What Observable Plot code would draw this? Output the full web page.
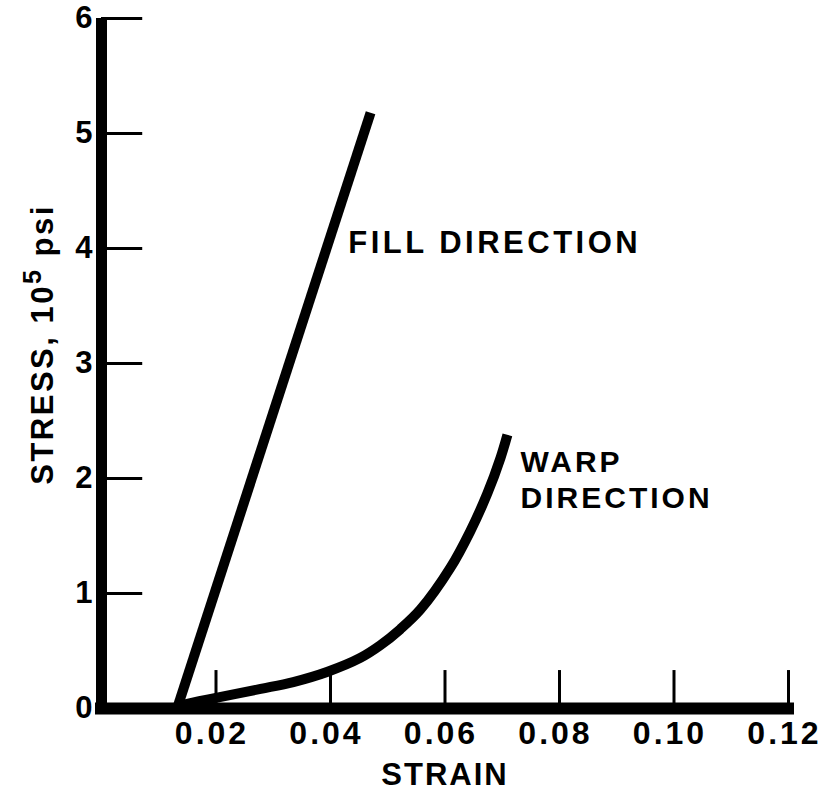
<!DOCTYPE html>
<html><head><meta charset="utf-8">
<script src="https://cdn.jsdelivr.net/npm/d3@7"></script>
<script src="https://cdn.jsdelivr.net/npm/@observablehq/plot@0.6"></script>
<style>
html,body{margin:0;padding:0;background:#fff}
#chart svg{font-family:"Liberation Sans",Arial,sans-serif;font-weight:bold;background:#fff}
g[aria-label="x-axis tick label"] text{letter-spacing:3px}
</style></head><body><div id="chart"></div>
<script>
// Tick values
const strainTicks = [0.02, 0.04, 0.06, 0.08, 0.10, 0.12];
const stressTicks = [0, 1, 2, 3, 4, 5, 6];

// Fill direction (straight line)
const fillStrain = [0.0132, 0.0470];
const fillStress = [0, 5.18];

// Warp direction (curve)
const warpStrain = [0.0140, 0.0187, 0.0278, 0.0335, 0.0395, 0.0452, 0.0487, 0.0522, 0.0557, 0.0609, 0.0644, 0.0674, 0.0697, 0.0709];
const warpStress = [0.03, 0.08, 0.17, 0.23, 0.32, 0.44, 0.55, 0.69, 0.86, 1.22, 1.54, 1.87, 2.18, 2.38];

// Annotations
const noteText = ["FILL DIRECTION", "WARP\nDIRECTION"];
const noteStrain = [0.0431, 0.0732];
const noteStress = [3.96, 1.74];

const xTitle = "STRAIN";
const yTitle = "STRESS, 10⁵ psi";

const tickLenStress = 0.33;   // x-tick length in stress units
const tickLenStrain = 0.0072; // y-tick length in strain units

const fillData = fillStrain.map((x, i) => ({x, y: fillStress[i]}));
const warpData = warpStrain.map((x, i) => ({x, y: warpStress[i]}));

const svg = Plot.plot({
  width: 821,
  height: 790,
  marginLeft: 101,
  marginRight: 33,
  marginTop: 18,
  marginBottom: 82,
  x: {domain: [0, 0.12]},
  y: {domain: [0, 6]},
  marks: [
    // x ticks (pointing up)
    Plot.ruleX(strainTicks, {x: d => d, y1: 0, y2: tickLenStress, stroke: "black", strokeWidth: 3}),
    // y ticks (pointing right)
    Plot.ruleY(stressTicks.filter(d => d > 0), {y: d => d, x1: 0, x2: tickLenStrain, stroke: "black", strokeWidth: 3}),
    // axis lines
    Plot.ruleX([0], {stroke: "black", strokeWidth: 11}),
    Plot.ruleY([0], {stroke: "black", strokeWidth: 12, strokeLinecap: "square"}),
    Plot.axisX({ticks: strainTicks, tickSize: 0, tickPadding: 13, dx: -4, tickFormat: d3.format(".2f"), fontSize: 32, label: null}),
    Plot.axisY({ticks: stressTicks, tickSize: 0, tickPadding: 9, tickFormat: d3.format("d"), fontSize: 31, label: null}),
    // curves
    Plot.line(fillData, {x: "x", y: "y", stroke: "black", strokeWidth: 10, strokeLinecap: "butt"}),
    Plot.line(warpData, {x: "x", y: "y", stroke: "black", strokeWidth: 10, strokeLinecap: "butt", curve: "catmull-rom"}),
    // annotations
    Plot.text([0], {x: () => noteStrain[0], y: () => noteStress[0], text: () => noteText[0], textAnchor: "start", lineAnchor: "bottom", fontSize: 31, fill: "black"}),
    Plot.text([0], {x: () => noteStrain[1], y: () => noteStress[1], text: () => noteText[1], textAnchor: "start", lineAnchor: "bottom", lineHeight: 1.2, fontSize: 30, fill: "black"}),
    // axis titles
    Plot.text([xTitle], {frameAnchor: "bottom", textAnchor: "middle", dy: 76, lineAnchor: "bottom", fontSize: 31, fill: "black"}),
    Plot.text([yTitle], {frameAnchor: "left", textAnchor: "middle", rotate: -90, dx: -49, dy: -19, lineAnchor: "bottom", fontSize: 31, fill: "black"})
  ]
});

// Letter spacing per text, and superscript in the y title
const spacing = {"FILL DIRECTION": "3.5px", "WARPDIRECTION": "3px", "STRAIN": "2px", "STRESS, 10⁵ psi": "2.5px"};
const ns = "http://www.w3.org/2000/svg";
svg.querySelectorAll("text").forEach(t => {
  const s = spacing[t.textContent];
  if (s) t.style.letterSpacing = s;
  if (t.textContent.includes("⁵")) {
    const parts = t.textContent.split("⁵");
    t.textContent = "";
    const a = document.createElementNS(ns, "tspan"); a.textContent = parts[0];
    const b = document.createElementNS(ns, "tspan"); b.textContent = "5";
    b.setAttribute("dy", "-12"); b.setAttribute("font-size", "25");
    const c = document.createElementNS(ns, "tspan"); c.textContent = parts[1];
    c.setAttribute("dy", "12");
    t.append(a, b, c);
  }
});
document.getElementById("chart").append(svg);
</script>
</body></html>
